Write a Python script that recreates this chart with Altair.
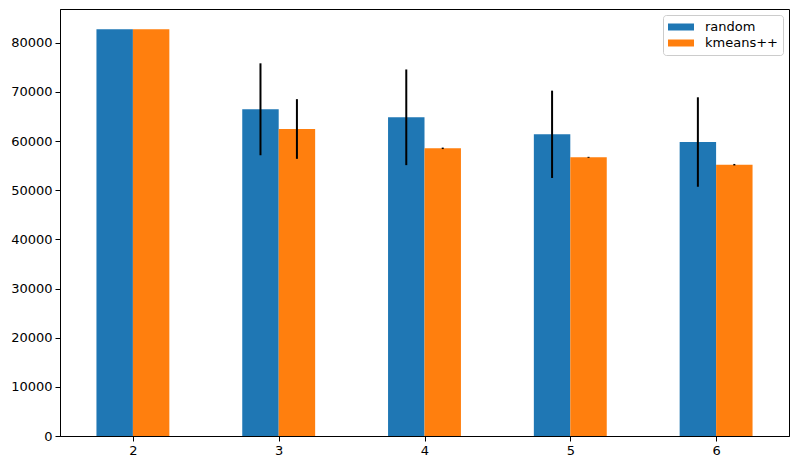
import altair as alt
import pandas as pd

ks = [2, 3, 4, 5, 6]
series = ["random", "kmeans++"]
random_mean = [82730, 66460, 64830, 61370, 59800]
random_err = [0, 9350, 9730, 8880, 9100]
kmeans_mean = [82730, 62450, 58520, 56690, 55190]
kmeans_err = [0, 6070, 150, 100, 150]
y_ticks = [0, 10000, 20000, 30000, 40000, 50000, 60000, 70000, 80000]

rows = []
for i, k in enumerate(ks):
    rows.append(dict(k=k, method=series[0], order=0, mean=random_mean[i], err=random_err[i]))
    rows.append(dict(k=k, method=series[1], order=1, mean=kmeans_mean[i], err=kmeans_err[i]))
df = pd.DataFrame(rows)

base = (
    alt.Chart(df)
    .transform_calculate(pos="datum.k + (datum.order - 0.5) * 0.25")
    .transform_calculate(left="datum.pos - 0.125")
    .transform_calculate(right="datum.pos + 0.125")
    .transform_calculate(lo="datum.mean - datum.err")
    .transform_calculate(hi="datum.mean + datum.err")
    .transform_calculate(base0="0")
)

xscale = alt.Scale(domain=[1.5, 6.5], nice=False, zero=False)
yscale = alt.Scale(domain=[0, 86860], nice=False)
xaxis = alt.Axis(values=ks, format="d", grid=False, title=None, labelAngle=0)
yaxis = alt.Axis(values=y_ticks, format="d", grid=False, title=None)

bars = base.mark_bar(strokeWidth=0).encode(
    x=alt.X("left:Q", scale=xscale, axis=xaxis),
    x2="right:Q",
    y=alt.Y("mean:Q", scale=yscale, axis=yaxis),
    y2="base0:Q",
    color=alt.Color(
        "method:N",
        scale=alt.Scale(domain=series, range=["#1f77b4", "#ff7f0e"]),
        legend=alt.Legend(
            title=None,
            orient="none",
            legendX=603,
            legendY=6,
            symbolType="M-1,-0.5L2.714,-0.5L2.714,0.5L-1,0.5Z",
            symbolSize=196,
            symbolStrokeWidth=0,
            labelFontSize=13,
            labelFont="DejaVu Sans",
            labelColor="black",
            padding=5,
            rowPadding=2,
            labelOffset=23,
            strokeColor="#cccccc",
            fillColor="white",
            cornerRadius=3,
        ),
    ),
)

errs = base.transform_filter("datum.err > 0").mark_rule(color="black", strokeWidth=2).encode(
    x=alt.X("pos:Q", scale=xscale),
    y=alt.Y("lo:Q", scale=yscale),
    y2="hi:Q",
)

chart = (
    alt.layer(bars, errs)
    .properties(
        width=729,
        height=427,
        autosize=alt.AutoSizeParams(type="none"),
        padding={"left": 52, "top": 1, "right": 2, "bottom": 22},
    )
    .configure_view(stroke="black", strokeWidth=1)
    .configure_axis(
        labelFont="DejaVu Sans",
        labelFontSize=13,
        labelColor="black",
        tickColor="black",
        domainColor="black",
        tickSize=5,
        labelPadding=3,
    )
)

chart.save("out.html", embed_options={"renderer": "svg", "actions": False})
